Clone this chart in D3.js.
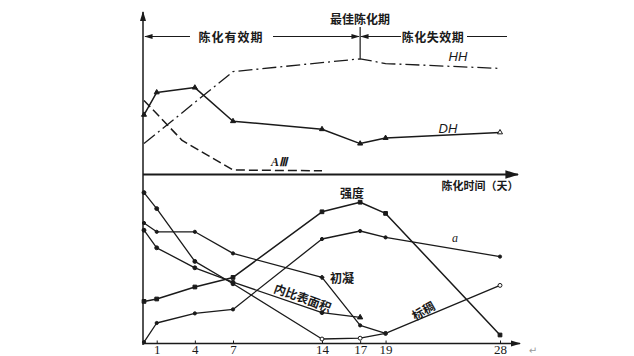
<!DOCTYPE html>
<html><head><meta charset="utf-8">
<script src="https://cdn.jsdelivr.net/npm/d3@7"></script>
<style>body{margin:0;background:#fff}svg{display:block}</style>
</head><body>
<svg id="c" width="634" height="356"></svg>
<script>
// ---- data ----
const tickDays = [1, 4, 7, 14, 17, 19, 28];
// top panel
const hhDays = [0, 7, 17, 19, 28];
const hhVals = [19, 64, 72, 69, 66];
const dhDays = [0, 1, 4, 7, 14, 17, 19, 28];
const dhVals = [37, 51, 54, 33, 28, 19, 22.5, 26];
const a3Days = [0, 3, 7, 14];
const a3Vals = [46, 21, 2.5, 2];
// bottom panel
const days = [0, 1, 4, 7, 14, 17, 19, 28];
const strengthVals = [26, 27.5, 35, 41, 82, 88, 81, 5];
const aVals = [0.5, 12.5, 18.5, 21, 65, 70, 66, 54];
const consistVals = [94, 84, 51, 37, 2.5, 3, 6, 36];
const initDays = [0, 1, 4, 7, 14, 17, 19];
const initVals = [75, 69.5, 69.5, 56, 41, 11, 6];
const surfDays = [0, 1, 4, 7, 14, 17];
const surfVals = [70.5, 59.5, 47, 38, 19, 16];

const svg = d3.select('#c');
const ink = '#1a1a1a';
const x = d3.scaleLinear().domain([0, 28]).range([144, 500]);
const yTop = d3.scaleLinear().domain([0, 100]).range([174, 14]);
const yBot = d3.scaleLinear().domain([0, 100]).range([343, 183]);

const defs = svg.append('defs');
defs.append('marker').attr('id', 'arr').attr('viewBox', '0 0 10 10').attr('refX', 9).attr('refY', 5)
  .attr('markerWidth', 7).attr('markerHeight', 7).attr('orient', 'auto-start-reverse')
  .append('path').attr('d', 'M0,2L10,5L0,8Z').attr('fill', ink);

// axes
svg.append('line').attr('x1', 143).attr('x2', 143).attr('y1', 345).attr('y2', 12)
  .attr('stroke', ink).attr('stroke-width', 1.5).attr('marker-end', 'url(#arr)');
svg.append('line').attr('x1', 143).attr('x2', 518).attr('y1', 174.5).attr('y2', 174.5)
  .attr('stroke', ink).attr('stroke-width', 2).attr('marker-end', 'url(#arr)');
const xAxis = d3.axisBottom(x).tickValues(tickDays).tickSize(-3).tickPadding(1.5).tickFormat(d3.format('d'));
const gx = svg.append('g').attr('transform', 'translate(0,343.5)').call(xAxis);
gx.select('.domain').remove();
gx.append('line').attr('x1', 143).attr('x2', 520).attr('y1', 0).attr('y2', 0)
  .attr('stroke', ink).attr('stroke-width', 1.5).attr('marker-end', 'url(#arr)');
gx.selectAll('.tick line').attr('stroke', ink);
gx.selectAll('.tick text').attr('font-family', 'Liberation Serif, serif').attr('font-size', 13)
  .attr('fill', ink).attr('dy', '0.71em');

const line = (ys) => d3.line().x(d => x(d[0])).y(d => ys(d[1]));
const zip = (a, b) => a.map((d, i) => [d, b[i]]);

function series(dArr, vArr, ys, opts) {
  svg.append('path').datum(zip(dArr, vArr)).attr('d', line(ys))
    .attr('fill', 'none').attr('stroke', ink).attr('stroke-width', opts.w || 1.4)
    .attr('stroke-dasharray', opts.dash || null).attr('stroke-linejoin', 'round');
}
function markers(dArr, vArr, ys, type, size, fillFn) {
  svg.append('g').selectAll('path').data(zip(dArr, vArr)).join('path')
    .attr('transform', d => `translate(${x(d[0])},${ys(d[1])})`)
    .attr('d', (d, i) => d3.symbol().type(typeof type === 'function' ? type(i) : type).size(size)())
    .attr('fill', (d, i) => fillFn ? fillFn(i) : ink).attr('stroke', ink).attr('stroke-width', 1);
}

// top panel
series(hhDays, hhVals, yTop, {dash: '14,4,2,4', w: 1.3});
series(dhDays, dhVals, yTop, {w: 1.5});
markers(dhDays, dhVals, yTop, d3.symbolTriangle, 11, i => i === dhDays.length - 1 ? '#fff' : ink);
series(a3Days, a3Vals, yTop, {dash: '9,4', w: 1.5});

// bottom panel
series(days, strengthVals, yBot, {w: 1.5});
markers(days, strengthVals, yBot, d3.symbolSquare, 14);
series(days, aVals, yBot, {w: 1.3});
markers(days, aVals, yBot, d3.symbolCircle, 8);
series(days, consistVals, yBot, {w: 1.3});
markers(days, consistVals, yBot, d3.symbolCircle, 12, i => (i >= 4 ? '#fff' : ink));
series(initDays, initVals, yBot, {w: 1.3});
markers(initDays, initVals, yBot, i => (i === 4 ? d3.symbolCross : d3.symbolCircle), 8);
series(surfDays, surfVals, yBot, {w: 1.3});
markers(surfDays, surfVals, yBot, i => (i === surfDays.length - 1 ? d3.symbolTriangle : d3.symbolCircle), 12);

// period annotations
const annY = 36.5;
svg.append('line').attr('x1', 190).attr('x2', 145).attr('y1', annY).attr('y2', annY)
  .attr('stroke', ink).attr('stroke-width', 1.2).attr('marker-end', 'url(#arr)');
svg.append('line').attr('x1', 273).attr('x2', 359).attr('y1', annY).attr('y2', annY)
  .attr('stroke', ink).attr('stroke-width', 1.2).attr('marker-end', 'url(#arr)');
svg.append('line').attr('x1', 401).attr('x2', 361).attr('y1', annY).attr('y2', annY)
  .attr('stroke', ink).attr('stroke-width', 1.2).attr('marker-end', 'url(#arr)');
svg.append('line').attr('x1', 467).attr('x2', 507).attr('y1', annY).attr('y2', annY)
  .attr('stroke', ink).attr('stroke-width', 1.2);
svg.append('line').attr('x1', x(17)).attr('x2', x(17)).attr('y1', 27).attr('y2', yTop(72))
  .attr('stroke', ink).attr('stroke-width', 1.2);

const cn = 'Noto Sans CJK SC, sans-serif';
function txt(t, px, py, o = {}) {
  const el = svg.append('text').attr('x', px).attr('y', py).text(t)
    .attr('font-family', o.ff || cn).attr('font-size', o.fs || 12).attr('fill', o.fill || ink)
    .attr('text-anchor', o.anchor || 'middle').attr('dominant-baseline', 'central')
    .attr('font-weight', o.fw || 'bold').attr('font-style', o.fi || 'normal')
    .attr('letter-spacing', o.ls || 0);
  if (o.rot) el.attr('transform', `rotate(${o.rot},${px},${py})`);
  return el;
}
txt('陈化有效期', 231, annY, {fs: 12, ls: 1});
txt('最佳陈化期', 360, 18, {fs: 12});
txt('陈化失效期', 433, annY, {fs: 12, ls: 0.5});
txt('陈化时间（天）', 480, 185, {fs: 11});

const it = 'Liberation Sans, sans-serif';
txt('HH', 458, 56, {ff: it, fi: 'italic', fs: 13, fw: 'normal'});
txt('DH', 448, 128, {ff: it, fi: 'italic', fs: 13, fw: 'normal'});
txt('AⅢ', 279, 162, {ff: 'Liberation Serif, serif', fi: 'italic', fs: 12});

txt('强度', 352, 192, {fs: 12});
txt('a', 455, 238, {ff: 'Liberation Serif, serif', fi: 'italic', fs: 12, fw: 'normal'});
txt('初凝', 342, 277, {fs: 12});
txt('内比表面积', 303, 297, {fs: 12, rot: 20});
txt('标稠', 423, 310, {fs: 12, rot: -30});
txt('↵', 533, 350, {ff: 'DejaVu Sans, sans-serif', fs: 10, fill: '#999', fw: 'normal'});
</script>
</body></html>
